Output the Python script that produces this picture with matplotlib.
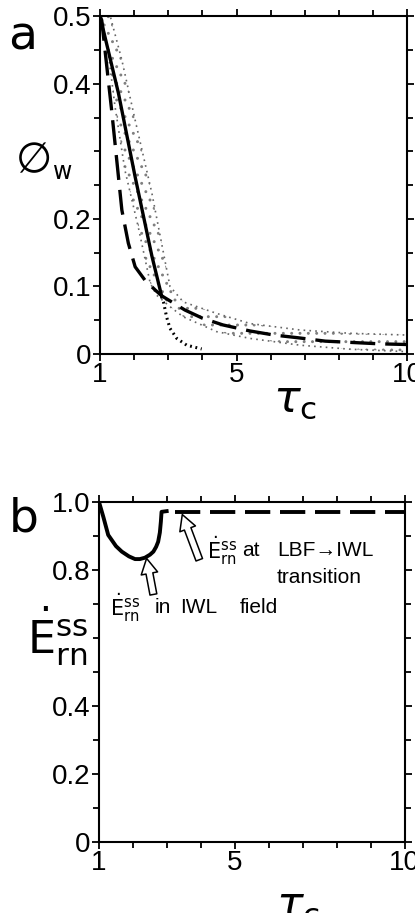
import numpy as np
import matplotlib
matplotlib.use('Agg')
import matplotlib.pyplot as plt
from matplotlib.ticker import MultipleLocator, FixedLocator

plt.rcParams['font.family'] = ['Liberation Sans', 'DejaVu Sans']
plt.rcParams['hatch.linewidth'] = 0.9

# panel a data (tau_c vs phi_w)
solid_a_x = [1.0, 1.54, 2.03, 2.52, 2.81]
solid_a_y = [0.5, 0.386, 0.262, 0.145, 0.085]
dash_a_x = [1.0, 1.05, 1.2, 1.34, 1.49, 1.64, 1.83, 2.03, 2.32, 2.61, 2.81, 3.49, 4.0, 4.6, 5.4,
            6.1, 6.8, 7.6, 8.4, 9.2, 10.0]
dash_a_y = [0.5, 0.494, 0.425, 0.361, 0.287, 0.213, 0.164, 0.129, 0.109, 0.095, 0.086, 0.065,
            0.053, 0.043, 0.034, 0.028, 0.024, 0.019, 0.017, 0.015, 0.014]
dot_a_x = [2.81, 2.86, 2.95, 3.05, 3.25, 3.54, 3.98]
dot_a_y = [0.085, 0.077, 0.055, 0.038, 0.023, 0.013, 0.0074]
band_up_x = [1.0, 1.3, 1.64, 2.03, 2.52, 2.9, 3.05, 3.44, 4.42, 5.4, 6.86, 8.33, 10.0]
band_up_y = [0.5, 0.5, 0.435, 0.346, 0.238, 0.139, 0.1, 0.077, 0.06, 0.045, 0.0355, 0.0306, 0.028]
band_lo_x = [1.0, 1.23, 1.44, 1.73, 2.12, 2.47, 2.66, 3.05, 3.44, 4.42, 5.4, 6.86, 8.33, 10.0]
band_lo_y = [0.5, 0.45, 0.366, 0.272, 0.188, 0.105, 0.087, 0.07, 0.055, 0.033, 0.023, 0.013,
             0.007, 0.0034]

# panel b data (tau_c vs E_rn^ss)
solid_b_x = [1.0, 1.13, 1.27, 1.5, 1.67, 1.88, 2.06, 2.2, 2.35, 2.5, 2.6, 2.68, 2.74, 2.79,
             2.82, 2.84, 2.99]
solid_b_y = [1.0, 0.955, 0.903, 0.87, 0.854, 0.84, 0.832, 0.832, 0.836, 0.845, 0.854, 0.868,
             0.883, 0.91, 0.942, 0.971, 0.973]
dash_b_x = [3.24, 10.0]
dash_b_y = [0.970, 0.970]

lab = r'$\dot{\mathrm{E}}^{\mathrm{ss}}_{\mathrm{rn}}$'
# annotation words: (text, tau, value)
note_words = [(lab, 1.32, 0.69), ('in', 2.65, 0.69), ('IWL', 3.38, 0.69), ('field', 5.15, 0.69),
              (lab, 4.18, 0.857), ('at', 5.2, 0.857), ('LBF\u2192IWL', 6.23, 0.857),
              ('transition', 6.23, 0.778)]

fig = plt.figure(figsize=(4.15, 9.13), dpi=100)
ax1 = fig.add_axes([0.241, 0.6123, 0.740, 0.370])
ax2 = fig.add_axes([0.2386, 0.0778, 0.737, 0.3724])

for ax in (ax1, ax2):
    ax.set_xlim(1, 10)
    ax.xaxis.set_major_locator(FixedLocator([1, 5, 10]))
    ax.xaxis.set_minor_locator(MultipleLocator(1))
    ax.tick_params(which='both', direction='out', top=True, right=True,
                   width=1.3, labelsize=20, pad=1)
    ax.tick_params(which='major', length=5)
    ax.tick_params(which='minor', length=4)
    for s in ax.spines.values():
        s.set_linewidth(1.5)

# panel a
band_x = band_up_x + band_lo_x[::-1]
band_y = band_up_y + band_lo_y[::-1]
ax1.fill(band_x, band_y, facecolor='none', edgecolor='0.5', hatch='..', lw=0)
ax1.plot(band_up_x, band_up_y, color='0.4', ls=(0, (1, 2.5)), lw=1.2)
ax1.plot(band_lo_x, band_lo_y, color='0.4', ls=(0, (1, 2.5)), lw=1.2)
ax1.plot(solid_a_x, solid_a_y, color='black', lw=2.4)
ax1.plot(dash_a_x, dash_a_y, color='black', lw=2.4, ls=(0, (7.5, 3)))
ax1.plot(dot_a_x, dot_a_y, color='black', lw=2.2, ls=(0, (0.6, 1.2)))
ax1.set_ylim(0, 0.5)
ax1.yaxis.set_major_locator(FixedLocator([0, 0.1, 0.2, 0.4, 0.5]))
ax1.yaxis.set_minor_locator(MultipleLocator(0.05))
ax1.set_yticklabels(['0', '0.1', '0.2', '0.4', '0.5'])
ax1.set_xticklabels(['1', '5', '10'])
ax1.set_xlabel(r'$\tau_\mathrm{c}$', fontsize=32, family='DejaVu Sans')
ax1.xaxis.set_label_coords(0.635, -0.07)
fig.text(0.082, 0.8248, '\u2205', fontsize=30, family='DejaVu Sans', ha='center', va='center')
fig.text(0.128, 0.8118, 'w', fontsize=17, family='DejaVu Sans', ha='left', va='center')
fig.text(0.02, 0.959, 'a', fontsize=34, family='DejaVu Sans', ha='left', va='center')

# panel b
ax2.plot(solid_b_x, solid_b_y, color='black', lw=2.8)
ax2.plot(dash_b_x, dash_b_y, color='black', lw=2.8, ls=(0, (6.5, 2.5)))
ax2.set_ylim(0, 1.0)
ax2.yaxis.set_major_locator(FixedLocator([0, 0.2, 0.4, 0.8, 1.0]))
ax2.yaxis.set_minor_locator(MultipleLocator(0.1))
ax2.set_yticklabels(['0', '0.2', '0.4', '0.8', '1.0'])
ax2.set_xticklabels(['1', '5', '10'])
ax2.set_xlabel(r'$\tau_\mathrm{c}$', fontsize=32, family='DejaVu Sans')
ax2.xaxis.set_label_coords(0.65, -0.125)
fig.text(0.065, 0.303, lab, fontsize=32, family='DejaVu Sans', ha='left', va='center')
fig.text(0.02, 0.432, 'b', fontsize=34, family='DejaVu Sans', ha='left', va='center')

arrow = dict(arrowstyle='simple,head_length=1.1,head_width=1.2,tail_width=0.5',
             fc='white', ec='black', lw=1.1, shrinkA=0, shrinkB=0)
ax2.annotate('', xy=(2.4, 0.834), xytext=(2.6, 0.728), arrowprops=arrow)
ax2.annotate('', xy=(3.45, 0.963), xytext=(3.95, 0.83), arrowprops=arrow)
for word, tx, ty in note_words:
    ax2.text(tx, ty, word, fontsize=15, va='center', ha='left')

fig.savefig('out.png', dpi=100)
